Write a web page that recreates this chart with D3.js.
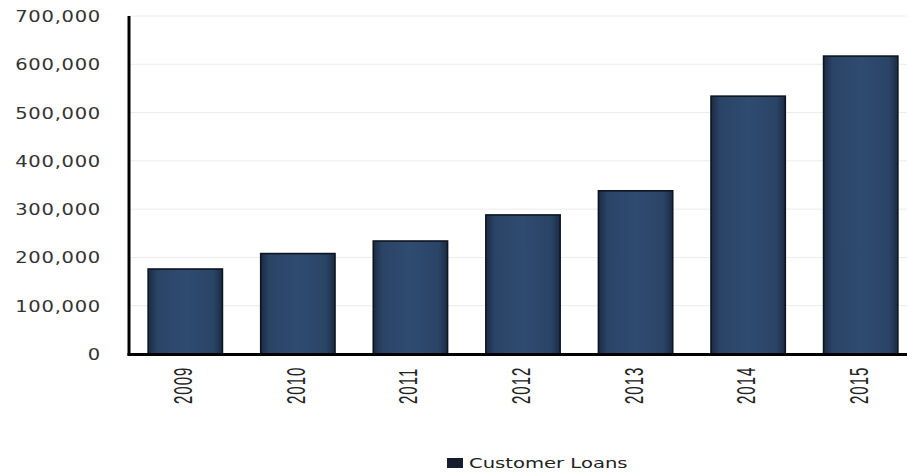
<!DOCTYPE html>
<html><head><meta charset="utf-8">
<script src="https://cdn.jsdelivr.net/npm/d3@7"></script>
<style>body{margin:0;background:#fff}svg{display:block}</style>
</head><body>
<script>
const years = ["2009","2010","2011","2012","2013","2014","2015"];
const loans = [176000, 208000, 234000, 288000, 338000, 534000, 617000];
const yTicks = [0,100000,200000,300000,400000,500000,600000,700000];
const seriesName = "Customer Loans";

const W = 908, H = 474;
const svg = d3.select("body").append("svg").attr("width", W).attr("height", H);
const defs = svg.append("defs");
const g1 = defs.append("linearGradient").attr("id","bg").attr("x1","0").attr("x2","1").attr("y1","0").attr("y2","0");
g1.append("stop").attr("offset","0").attr("stop-color","#1b2b44");
g1.append("stop").attr("offset","0.12").attr("stop-color","#2a4466");
g1.append("stop").attr("offset","0.5").attr("stop-color","#2f4b70");
g1.append("stop").attr("offset","0.88").attr("stop-color","#2a4466");
g1.append("stop").attr("offset","1").attr("stop-color","#1b2b44");

const x0 = 129, xEnd = 907;
const y = d3.scaleLinear().domain([0,700000]).range([354,16]);
const x = d3.scaleBand().domain(years).range([x0, 917]).paddingInner(0.34).paddingOuter(0.17);

// gridlines
svg.append("g").selectAll("line").data(yTicks.slice(1)).join("line")
  .attr("x1", x0).attr("x2", xEnd)
  .attr("y1", d=>y(d)).attr("y2", d=>y(d))
  .attr("stroke","#ececec").attr("stroke-width",1);

// y labels
const fmt = d3.format(",");
svg.append("g").selectAll("text").data(yTicks).join("text")
  .attr("transform", d=>`translate(101,${y(d)+6}) scale(1.22,1)`)
  .attr("text-anchor","end")
  .attr("font-family","DejaVu Sans, sans-serif")
  .attr("font-size",16).attr("letter-spacing",0.6)
  .attr("fill","#333")
  .text(d=>fmt(d));

// bars
svg.append("g").selectAll("rect").data(years).join("rect")
  .attr("x", d=>x(d)).attr("width", x.bandwidth())
  .attr("y", (d,i)=>y(loans[i])).attr("height",(d,i)=>y(0)-y(loans[i]))
  .attr("fill","url(#bg)").attr("stroke","#0e1420").attr("stroke-width",1.6);

// axes lines
svg.append("line").attr("x1",x0).attr("x2",x0).attr("y1",16).attr("y2",355.5)
  .attr("stroke","#000").attr("stroke-width",3);
svg.append("line").attr("x1",x0-1.5).attr("x2",xEnd).attr("y1",354.5).attr("y2",354.5)
  .attr("stroke","#000").attr("stroke-width",3);

// x labels
svg.append("g").selectAll("text").data(years).join("text")
  .attr("transform", d=>`translate(${x(d)+x.bandwidth()/2+7},404) rotate(-90) scale(1,1.7)`)
  .attr("text-anchor","start")
  .attr("font-family","Liberation Sans, sans-serif")
  .attr("font-size",15).attr("letter-spacing",1)
  .attr("fill","#222")
  .text(d=>d);

// legend
svg.append("rect").attr("x",447).attr("y",458).attr("width",16).attr("height",10).attr("fill","#151d2e");
svg.append("text").attr("transform","translate(469,468) scale(1.4,1)")
  .attr("font-family","DejaVu Sans, sans-serif").attr("font-size",14).attr("fill","#222")
  .text(seriesName);
</script>
</body></html>
